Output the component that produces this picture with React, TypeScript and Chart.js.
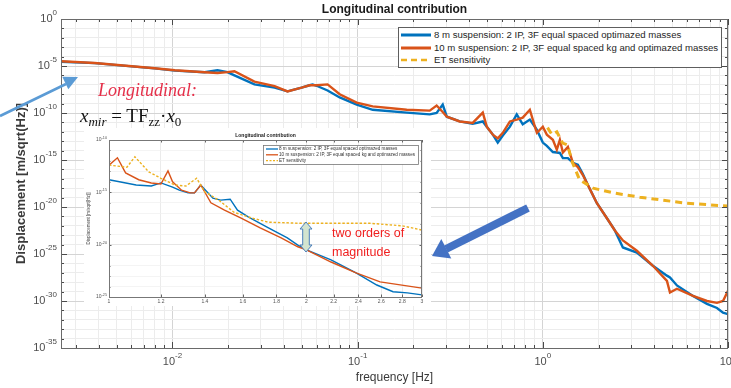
import React, { useEffect, useRef } from 'react';
import { Chart, registerables } from 'chart.js';

Chart.register(...registerables);

// ---------------- text ----------------
const MAIN_TITLE = 'Longitudinal contribution';
const SERIES_LABELS = [
  '8 m suspension: 2 IP, 3F equal spaced optimazed masses',
  '10 m suspension: 2 IP, 3F equal spaced kg and optimazed masses',
  'ET sensitivity',
];
const X_TITLE = 'frequency [Hz]';
const Y_TITLE = 'Displacement [m/sqrt(Hz)]';

// ---------------- main chart data ----------------
const mainFreq = [0.0025, 0.0038, 0.008, 0.0103, 0.0149, 0.0175, 0.0198, 0.0216, 0.0277, 0.0356, 0.0418, 0.0498, 0.055, 0.0571, 0.06, 0.0688, 0.08, 0.0988, 0.1206, 0.184, 0.245, 0.267, 0.288, 0.303, 0.356, 0.418, 0.474, 0.498, 0.537, 0.571, 0.608, 0.664, 0.723, 0.779, 0.851, 0.906, 0.929, 1.0, 1.051, 1.133, 1.19, 1.236, 1.283, 1.366, 1.453, 1.546, 1.645, 1.73, 1.959, 2.219, 2.449, 2.706, 3.22, 3.93, 4.68, 4.86, 5.3, 6.47, 7.7, 8.72, 9.4, 10];
const blueVals = [2.8e-5, 2.0e-5, 5.6e-6, 3.2e-6, 2.2e-6, 3.5e-6, 2.2e-6, 1.0e-6, 1.1e-7, 5.0e-8, 2.0e-8, 5.0e-8, 8.9e-8, 1.1e-7, 7.9e-8, 2.5e-8, 4.5e-9, 7.9e-10, 2.2e-10, 1.1e-10, 7.1e-11, 1.0e-10, 7.9e-10, 4.0e-11, 1.26e-11, 7.1e-12, 1.26e-11, 3.5e-12, 5.0e-13, 7.1e-14, 4.0e-13, 3.5e-12, 7.1e-11, 6.3e-12, 2.0e-11, 3.5e-12, 1.6e-12, 7.1e-14, 3.2e-14, 7.1e-15, 6.3e-15, 5.6e-15, 1.6e-15, 1.6e-15, 5.0e-16, 3.2e-16, 3.2e-17, 3.5e-18, 2.5e-20, 6.3e-22, 3.2e-23, 5.0e-25, 1.4e-25, 5.6e-27, 5.0e-28, 3.2e-28, 4.5e-29, 3.5e-30, 5.0e-31, 1.8e-31, 5.6e-32, 4.0e-32];
const orangeVals = [3.2e-5, 2.1e-5, 5.8e-6, 3.5e-6, 2.2e-6, 1.8e-6, 2.2e-6, 2.8e-6, 2.2e-7, 7.1e-8, 2.0e-8, 5.0e-8, 8.9e-8, 8.9e-8, 8.9e-8, 1.1e-7, 1.0e-8, 1.26e-9, 5.0e-10, 2.2e-10, 1.8e-10, 6.3e-10, 1.26e-10, 4.0e-11, 1.26e-11, 8.9e-12, 1.1e-10, 3.5e-12, 5.0e-13, 2.0e-13, 7.9e-13, 1.26e-11, 2.0e-11, 3.2e-11, 2.2e-10, 3.5e-12, 7.9e-13, 3.5e-12, 5.0e-13, 1.4e-13, 1.26e-14, 1.4e-13, 6.3e-15, 2.5e-14, 5.0e-16, 1.8e-16, 2.5e-17, 3.5e-18, 2.5e-20, 6.3e-22, 3.2e-23, 2.8e-24, 2.2e-25, 5.6e-27, 1.4e-28, 7.9e-30, 2.0e-29, 3.5e-30, 1.0e-30, 6.3e-31, 1.0e-30, 1.26e-29];
const etFreq = [1.06, 1.12, 1.19, 1.28, 1.36, 1.44, 1.58, 1.87, 2.4, 3.34, 6.0, 10];
const etVals = [2.8e-12, 5.0e-13, 1.0e-12, 6.3e-14, 4.0e-14, 6.3e-16, 7.9e-18, 1.0e-18, 3.2e-19, 1.1e-19, 2.5e-20, 1.26e-20];

const mainXMajor = [0.01, 0.1, 1, 10];
const mainYMajorExp = [0, -5, -10, -15, -20, -25, -30, -35];

// ---------------- inset chart data ----------------
const insetOrangeFreq = [1.0, 1.03, 1.06, 1.11, 1.16, 1.2, 1.23, 1.25, 1.29, 1.33, 1.35, 1.38, 1.43, 1.5, 1.59, 1.7, 1.83, 1.94, 2.0, 2.18, 2.38, 2.59, 3.0];
const insetOrangeVals = [4.0e-13, 2.0e-12, 7.1e-14, 1.6e-14, 7.9e-15, 6.3e-15, 1.1e-13, 1.0e-14, 1.6e-15, 8.9e-16, 8.9e-16, 5.0e-15, 1.0e-16, 2.0e-17, 3.5e-18, 4.0e-19, 4.5e-20, 6.3e-21, 3.2e-21, 2.2e-22, 2.0e-23, 2.8e-24, 7.1e-25];
const insetBlueFreq = [1.0, 1.1, 1.16, 1.2, 1.25, 1.28, 1.32, 1.35, 1.38, 1.44, 1.48, 1.53, 1.57, 1.63, 1.75, 1.87, 1.94, 2.0, 2.18, 2.38, 2.56, 2.71, 2.85, 3.0];
const insetBlueVals = [1.6e-14, 5.0e-15, 4.0e-15, 7.9e-15, 3.2e-15, 1.6e-15, 8.9e-16, 8.9e-16, 5.0e-15, 2.8e-16, 1.8e-16, 2.2e-16, 2.0e-17, 4.5e-18, 4.0e-19, 4.5e-20, 8.9e-21, 3.2e-21, 3.5e-22, 2.0e-23, 1.4e-24, 3.2e-25, 2.5e-25, 1.6e-25];
const insetEtFreq = [1.0, 1.065, 1.095, 1.15, 1.2, 1.26, 1.31, 1.36, 1.4, 1.47, 1.55, 1.65, 1.75, 1.96, 2.5, 2.8, 3.0];
const insetEtVals = [4.0e-13, 2.5e-13, 2.5e-12, 8.9e-14, 2.2e-14, 5.0e-15, 4.0e-15, 2.2e-14, 1.1e-15, 1.8e-16, 1.26e-17, 3.5e-18, 1.4e-18, 1.1e-18, 1.1e-18, 6.3e-19, 2.5e-19];

const insetXTicks = [1, 1.2, 1.4, 1.6, 1.8, 2, 2.2, 2.4, 2.6, 2.8, 3];
const insetXTickLabels = ['1', '1.2', '1.4', '1.6', '1.8', '2', '2.2', '2.4', '2.6', '2.8', '3'];
const insetYMajorExp = [-10, -15, -20, -25];

// ---------------- styles ----------------
const BLUE = '#0072BD';
const ORANGE = '#D95319';
const YELLOW = '#EDB120';
const SANS = '"Liberation Sans", Arial, sans-serif';
const SERIF = '"Liberation Serif", "Times New Roman", serif';

const pts = (xs: number[], ys: number[]) => xs.map((x, i) => ({ x, y: ys[i] }));
const isPow10 = (v: number) => Math.abs(Math.log10(v) - Math.round(Math.log10(v))) < 1e-6;

function decadeTicks(min: number, max: number, withMinor: boolean) {
  const out: number[] = [];
  const e0 = Math.floor(Math.log10(min));
  const e1 = Math.ceil(Math.log10(max));
  for (let e = e0; e <= e1; e++) {
    const steps = withMinor ? [1, 2, 3, 4, 5, 6, 7, 8, 9] : [1];
    for (const m of steps) {
      const v = m * Math.pow(10, e);
      if (v >= min * 0.9999 && v <= max * 1.0001) out.push(v);
    }
  }
  return out;
}

type SupLabel = { v: number; base: string; exp: string };

function drawSup(ctx: any, lab: SupLabel, x: number, y: number, align: string, baseFont: string, expFont: string, raise: number) {
  ctx.font = baseFont;
  const w1 = ctx.measureText(lab.base).width;
  ctx.font = expFont;
  const w2 = lab.exp ? ctx.measureText(lab.exp).width : 0;
  const total = w1 + w2;
  const sx = align === 'right' ? x - total : x - total / 2;
  ctx.textAlign = 'left';
  ctx.textBaseline = 'middle';
  ctx.font = baseFont;
  ctx.fillText(lab.base, sx, y);
  if (lab.exp) {
    ctx.font = expFont;
    ctx.fillText(lab.exp, sx + w1, y - raise);
  }
}

function makeFramePlugin(id: string, o: any) {
  return {
    id,
    afterDraw(chart: any) {
      const { ctx, chartArea: a, scales } = chart;
      const xs = scales.x;
      const ys = scales.y;
      ctx.save();
      ctx.lineWidth = 1;
      ctx.strokeStyle = o.tickColor;
      ctx.beginPath();
      const xt = (vals: number[], len: number) => {
        for (const v of vals) {
          const p = Math.round(xs.getPixelForValue(v)) + 0.5;
          ctx.moveTo(p, a.bottom);
          ctx.lineTo(p, a.bottom - len);
          ctx.moveTo(p, a.top);
          ctx.lineTo(p, a.top + len);
        }
      };
      const yt = (vals: number[], len: number) => {
        for (const v of vals) {
          const p = Math.round(ys.getPixelForValue(v)) + 0.5;
          ctx.moveTo(a.left, p);
          ctx.lineTo(a.left + len, p);
          ctx.moveTo(a.right, p);
          ctx.lineTo(a.right - len, p);
        }
      };
      xt(o.xMinor, o.minorLen);
      xt(o.xMajor, o.majorLen);
      yt(o.yMinor, o.minorLen);
      yt(o.yMajor, o.majorLen);
      ctx.stroke();
      ctx.strokeStyle = o.boxColor;
      ctx.strokeRect(Math.round(a.left) + 0.5, Math.round(a.top) + 0.5, Math.round(a.right - a.left) - 1, Math.round(a.bottom - a.top));
      ctx.fillStyle = o.labelColor;
      for (const lab of o.xLabels as SupLabel[]) {
        drawSup(ctx, lab, xs.getPixelForValue(lab.v), a.bottom + o.xLabelOffset, 'center', o.baseFont, o.expFont, o.raise);
      }
      for (const lab of o.yLabels as SupLabel[]) {
        drawSup(ctx, lab, a.left - o.yLabelOffset, ys.getPixelForValue(lab.v), 'right', o.baseFont, o.expFont, o.raise);
      }
      if (o.legend) o.legend(ctx, a);
      ctx.restore();
    },
  };
}

function mainConfig(): any {
  const xMin = 0.0025, xMax = 10, yMin = 1e-35, yMax = 1;
  const xAll = decadeTicks(xMin, xMax, true);
  const yAll = decadeTicks(yMin, yMax, false);
  const yMajor = mainYMajorExp.map((e) => Math.pow(10, e));
  const frame = makeFramePlugin('mainFrame', {
    tickColor: '#4a4a4a',
    boxColor: '#6a6a6a',
    xMajor: mainXMajor,
    xMinor: xAll.filter((v) => !isPow10(v)),
    yMajor,
    yMinor: yAll.filter((v) => !yMajor.some((m) => Math.abs(Math.log10(m) - Math.log10(v)) < 1e-6)),
    majorLen: 6,
    minorLen: 3,
    labelColor: '#4d4d4d',
    baseFont: `11px ${SANS}`,
    expFont: `8px ${SANS}`,
    raise: 6,
    xLabelOffset: 14,
    yLabelOffset: 4,
    xLabels: mainXMajor.map((v) => ({ v, base: '10', exp: String(Math.round(Math.log10(v))) })),
    yLabels: mainYMajorExp.map((e) => ({ v: Math.pow(10, e), base: '10', exp: String(e) })),
  });
  return {
    type: 'line',
    data: {
      datasets: [
        { label: SERIES_LABELS[0], data: pts(mainFreq, blueVals), borderColor: BLUE, borderWidth: 2.4, pointRadius: 0, order: 3 },
        { label: SERIES_LABELS[1], data: pts(mainFreq, orangeVals), borderColor: ORANGE, borderWidth: 2.4, pointRadius: 0, order: 2 },
        { label: SERIES_LABELS[2], data: pts(etFreq, etVals), borderColor: YELLOW, borderWidth: 3, borderDash: [7, 5], pointRadius: 0, order: 1 },
      ],
    },
    options: {
      responsive: false,
      animation: false,
      parsing: true,
      layout: { padding: { left: 0, right: 3, top: 0, bottom: 0 } },
      plugins: {
        legend: { display: false },
        tooltip: { enabled: false },
        title: {
          display: true,
          text: MAIN_TITLE,
          fullSize: false,
          color: '#1a1a1a',
          font: { family: SANS, size: 12, weight: 'bold' },
          padding: { top: 2, bottom: 2.6 },
        },
      },
      scales: {
        x: {
          type: 'logarithmic',
          min: xMin,
          max: xMax,
          afterBuildTicks: (s: any) => { s.ticks = xAll.map((v) => ({ value: v })); },
          afterFit: (s: any) => { s.height = 40; },
          ticks: { display: false, autoSkip: false },
          grid: {
            drawTicks: false,
            color: (c: any) => (c.tick && isPow10(c.tick.value) ? '#d4d4d4' : '#ececec'),
            lineWidth: 1,
          },
          border: { display: false },
          title: { display: true, text: X_TITLE, color: '#3a3a3a', font: { family: SANS, size: 12 }, padding: { top: 0, bottom: 2.8 } },
        },
        y: {
          type: 'logarithmic',
          min: yMin,
          max: yMax,
          afterBuildTicks: (s: any) => { s.ticks = yAll.map((v) => ({ value: v })); },
          afterFit: (s: any) => { s.width = 61; },
          ticks: { display: false, autoSkip: false },
          grid: {
            drawTicks: false,
            color: (c: any) => (c.tick && Math.round(Math.log10(c.tick.value)) % 5 === 0 ? '#d4d4d4' : '#ececec'),
            lineWidth: 1,
          },
          border: { display: false },
          title: { display: true, text: Y_TITLE, color: '#3a3a3a', font: { family: SANS, size: 13, weight: 'bold' }, padding: { top: 14, bottom: 0 } },
        },
      },
    },
    plugins: [frame],
  };
}

function insetConfig(): any {
  const xMin = 1, xMax = 3, yMin = 1e-25, yMax = 1e-10;
  const yAll = decadeTicks(yMin, yMax, false);
  const yMajor = insetYMajorExp.map((e) => Math.pow(10, e));
  const legend = (ctx: any, a: any) => {
    const bx = 179, by = 17, bw = 155, bh = 19;
    ctx.fillStyle = '#fff';
    ctx.fillRect(bx, by, bw, bh);
    ctx.strokeStyle = '#777';
    ctx.lineWidth = 0.8;
    ctx.strokeRect(bx + 0.5, by + 0.5, bw, bh);
    const rows = [
      { c: BLUE, dash: [] as number[], t: SERIES_LABELS[0] },
      { c: ORANGE, dash: [] as number[], t: SERIES_LABELS[1] },
      { c: YELLOW, dash: [2, 1.5], t: SERIES_LABELS[2] },
    ];
    rows.forEach((r, i) => {
      const y = by + 4 + i * 5.8;
      ctx.strokeStyle = r.c;
      ctx.lineWidth = 1.3;
      ctx.setLineDash(r.dash);
      ctx.beginPath();
      ctx.moveTo(bx + 3, y);
      ctx.lineTo(bx + 15, y);
      ctx.stroke();
      ctx.setLineDash([]);
      ctx.fillStyle = '#333';
      ctx.font = `4.6px ${SANS}`;
      ctx.textAlign = 'left';
      ctx.textBaseline = 'middle';
      ctx.fillText(r.t, bx + 16, y);
    });
  };
  const frame = makeFramePlugin('insetFrame', {
    tickColor: '#666',
    boxColor: '#777',
    xMajor: insetXTicks,
    xMinor: [],
    yMajor,
    yMinor: yAll.filter((v) => !yMajor.some((m) => Math.abs(Math.log10(m) - Math.log10(v)) < 1e-6)),
    majorLen: 2.5,
    minorLen: 1.5,
    labelColor: '#555',
    baseFont: `5px ${SANS}`,
    expFont: `3.8px ${SANS}`,
    raise: 2,
    xLabelOffset: 5,
    yLabelOffset: 2,
    xLabels: insetXTicks.map((v, i) => ({ v, base: insetXTickLabels[i], exp: '' })),
    yLabels: insetYMajorExp.map((e) => ({ v: Math.pow(10, e), base: '10', exp: String(e) })),
    legend,
  });
  return {
    type: 'line',
    data: {
      datasets: [
        { label: SERIES_LABELS[0], data: pts(insetBlueFreq, insetBlueVals), borderColor: BLUE, borderWidth: 1.4, pointRadius: 0, order: 3 },
        { label: SERIES_LABELS[1], data: pts(insetOrangeFreq, insetOrangeVals), borderColor: ORANGE, borderWidth: 1.4, pointRadius: 0, order: 2 },
        { label: SERIES_LABELS[2], data: pts(insetEtFreq, insetEtVals), borderColor: YELLOW, borderWidth: 1.4, borderDash: [2.5, 1.8], pointRadius: 0, order: 1 },
      ],
    },
    options: {
      responsive: false,
      animation: false,
      layout: { padding: { left: 0, right: 9, top: 0, bottom: 0 } },
      plugins: {
        legend: { display: false },
        tooltip: { enabled: false },
        title: {
          display: true,
          text: MAIN_TITLE,
          fullSize: false,
          color: '#1a1a1a',
          font: { family: SANS, size: 5, weight: 'bold' },
          padding: { top: 5, bottom: 1 },
        },
      },
      scales: {
        x: {
          type: 'logarithmic',
          min: xMin,
          max: xMax,
          afterBuildTicks: (s: any) => { s.ticks = insetXTicks.map((v) => ({ value: v })); },
          afterFit: (s: any) => { s.height = 9; },
          ticks: { display: false, autoSkip: false },
          grid: { drawTicks: false, color: '#e6e6e6', lineWidth: 0.8 },
          border: { display: false },
        },
        y: {
          type: 'logarithmic',
          min: yMin,
          max: yMax,
          afterBuildTicks: (s: any) => { s.ticks = yAll.map((v) => ({ value: v })); },
          afterFit: (s: any) => { s.width = 25; },
          ticks: { display: false, autoSkip: false },
          grid: {
            drawTicks: false,
            color: (c: any) => (c.tick && Math.round(Math.log10(c.tick.value)) % 5 === 0 ? '#e0e0e0' : '#f1f1f1'),
            lineWidth: 0.8,
          },
          border: { display: false },
          title: { display: true, text: Y_TITLE, color: '#444', font: { family: SANS, size: 4.5 }, padding: { top: 2.3, bottom: 0 } },
        },
      },
    },
    plugins: [frame],
  };
}

const subStyle: any = { fontSize: 13, lineHeight: 0, verticalAlign: '-0.3em' };

function LegendRow({ color, dash, text, top }: any) {
  return (
    <div style={{ position: 'absolute', left: 0, top, height: 12, width: '100%' }}>
      <svg width={34} height={12} style={{ position: 'absolute', left: 2, top: 0 }}>
        <line x1={0} y1={6} x2={30} y2={6} stroke={color} strokeWidth={dash ? 2.6 : 3} strokeDasharray={dash || undefined} />
      </svg>
      <div style={{ position: 'absolute', left: 35, top: 0, lineHeight: '12px', whiteSpace: 'nowrap' }}>{text}</div>
    </div>
  );
}

export default function App() {
  const mainRef = useRef<HTMLCanvasElement>(null);
  const insetRef = useRef<HTMLCanvasElement>(null);
  useEffect(() => {
    const c1 = new Chart(mainRef.current as HTMLCanvasElement, mainConfig());
    const c2 = new Chart(insetRef.current as HTMLCanvasElement, insetConfig());
    return () => {
      c1.destroy();
      c2.destroy();
    };
  }, []);

  return (
    <div style={{ position: 'fixed', left: 0, top: 0, width: 731, height: 388, background: '#fff', overflow: 'hidden' }}>
      <canvas ref={mainRef} width={731} height={388} style={{ position: 'absolute', left: 0, top: 0, width: 731, height: 388 }} />

      {/* main legend */}
      <div
        style={{
          position: 'absolute', left: 398, top: 27, width: 324, height: 41, boxSizing: 'border-box',
          border: '1px solid #5e5e5e', background: '#fff', fontFamily: SANS, fontSize: 9.6, color: '#262626',
        }}
      >
        <LegendRow color={BLUE} text={SERIES_LABELS[0]} top={1} />
        <LegendRow color={ORANGE} text={SERIES_LABELS[1]} top={13.5} />
        <LegendRow color={YELLOW} dash="6 4" text={SERIES_LABELS[2]} top={26} />
      </div>

      {/* inset */}
      <div style={{ position: 'absolute', left: 84, top: 128, width: 347, height: 178, background: '#fff' }}>
        <canvas ref={insetRef} width={347} height={178} style={{ display: 'block', width: 347, height: 178 }} />
      </div>

      {/* arrows */}
      <svg width={731} height={388} style={{ position: 'absolute', left: 0, top: 0, pointerEvents: 'none' }}>
        <line x1={0} y1={116} x2={66} y2={84} stroke="#5b9bd5" strokeWidth={2.6} />
        <polygon points="78,77 68.3,89.3 62.3,76.7" fill="#5b9bd5" />
        <line x1={528} y1={208} x2={446} y2={249} stroke="#4472c4" strokeWidth={8} />
        <polygon points="432,256 451.3,258.5 441.3,238.9" fill="#4472c4" />
        <polygon
          points="306,222 312,229 309.3,229 309.3,245 312,245 306,252 300,245 302.7,245 302.7,229 300,229"
          fill="#d3e4cf" stroke="#4a7ebb" strokeWidth={1}
        />
      </svg>

      {/* annotations */}
      <div style={{ position: 'absolute', left: 98, top: 79, font: `italic 18px ${SERIF}`, lineHeight: '22px', color: '#e5304a', whiteSpace: 'nowrap' }}>
        Longitudinal:
      </div>
      <div style={{ position: 'absolute', left: 80, top: 105, font: `19px ${SERIF}`, lineHeight: '22px', color: '#111', whiteSpace: 'nowrap' }}>
        <i>x</i><sub style={subStyle}><i>mir</i></sub> = TF<sub style={subStyle}>zz</sub>·<i>x</i><sub style={subStyle}>0</sub>
      </div>
      <div style={{ position: 'absolute', left: 332, top: 224, font: `12.5px ${SANS}`, lineHeight: '19px', color: '#f01e1e', whiteSpace: 'nowrap' }}>
        two orders of
        <br />
        magnitude
      </div>
    </div>
  );
}
